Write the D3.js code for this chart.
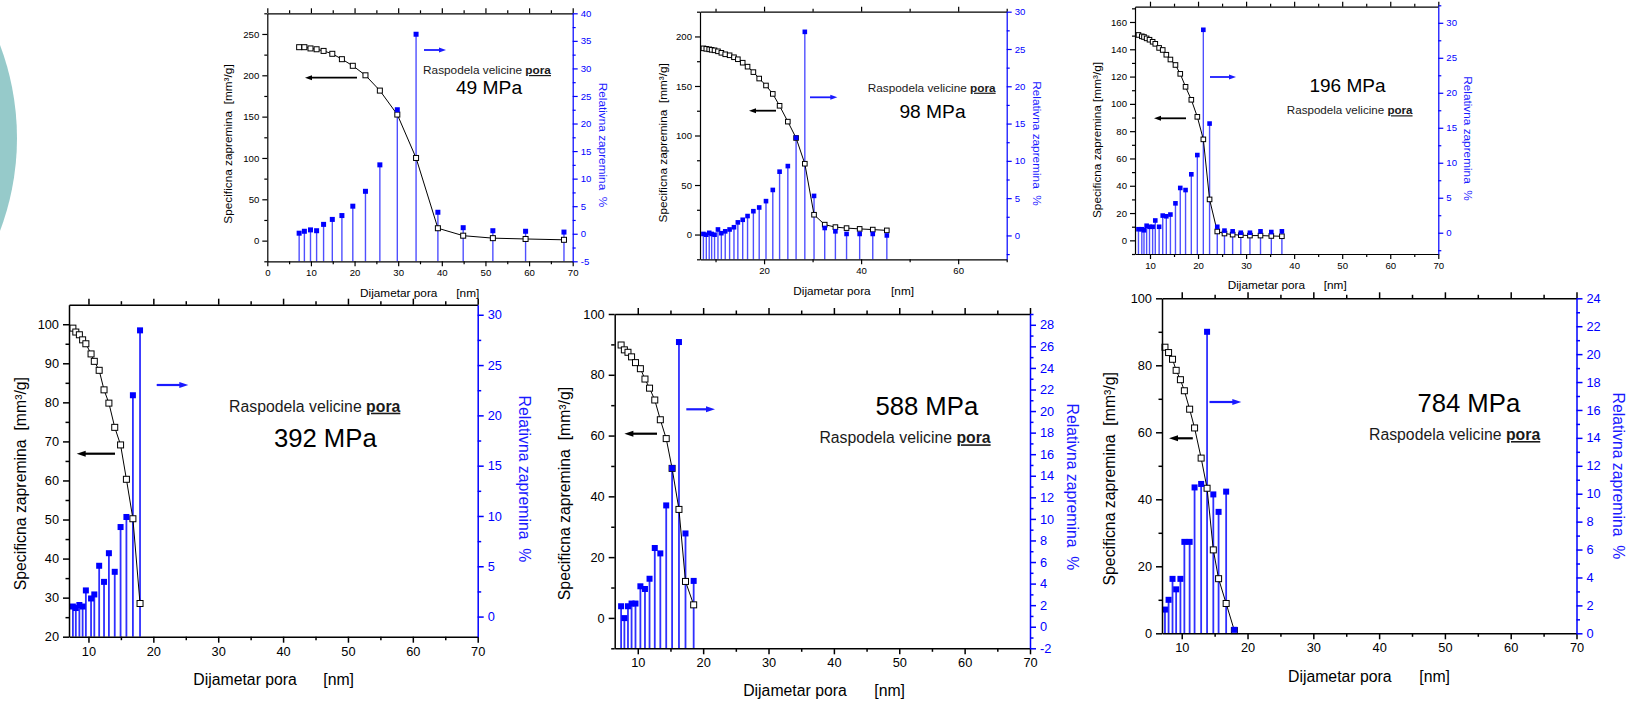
<!DOCTYPE html>
<html><head><meta charset="utf-8">
<script src="https://cdn.jsdelivr.net/npm/d3@7/dist/d3.min.js"></script>
<style>
html,body{margin:0;padding:0;background:#fff;overflow:hidden;}
svg{display:block;}
</style></head><body>
<svg id="chart" width="1633" height="701"></svg>
<script>
// ---------------- DATA ----------------
// 49 MPa
const d49    = [7.3, 8.5, 9.9, 11.3, 12.9, 14.9, 17.1, 19.6, 22.5, 25.8, 29.8, 34.1, 39.1, 44.9, 51.7, 59.2, 68.0];
const spec49 = [234, 234, 232.5, 231.5, 229.5, 226, 219.5, 211.5, 200, 181.5, 152.5, 100, 15, 6, 3, 2, 1];
const rel49  = [0.1, 0.45, 0.7, 0.55, 1.7, 2.6, 3.3, 5.0, 7.7, 12.5, 22.5, 36.2, 3.9, 1.1, 0.55, 0.45, 0.3];
// 98 MPa
const d98    = [7.5, 8.1, 8.7, 9.2, 9.8, 10.5, 11.2, 12.0, 12.9, 13.8, 14.6, 15.6, 16.6, 17.8, 19.0, 20.4, 21.8, 23.2, 24.9, 26.6, 28.4, 30.3, 32.5, 34.7, 37.0, 39.7, 42.4, 45.3];
const spec98 = [188, 187.5, 187, 186.5, 186, 185, 183.5, 182, 181, 179, 177, 173.5, 169.5, 164, 157.5, 150.5, 142, 130, 114, 97.5, 71.5, 20, 10, 7.5, 6.5, 5.7, 5, 4.2];
const rel98  = [0.2, 0.1, 0.35, 0.2, 0.1, 0.8, 0.3, 0.55, 0.8, 1.1, 1.75, 2.1, 2.6, 3.25, 3.75, 4.6, 6.1, 8.55, 9.3, 13.1, 27.3, 5.3, 1.0, 0.55, 0.2, 0.2, 0.2, 0.0];
// 196 MPa
const d196    = [7.6, 8.3, 8.75, 9.3, 9.9, 10.55, 11.1, 11.9, 12.65, 13.4, 14.25, 15.3, 16.3, 17.4, 18.6, 19.85, 21.1, 22.4, 24.0, 25.5, 27.2, 28.9, 30.8, 33.0, 35.25, 37.45];
const spec196 = [150.5, 149.5, 149, 148, 147, 145.5, 144, 141, 139.5, 136, 132.5, 128.5, 122, 112.5, 103, 90.5, 74, 30, 6.5, 5, 4.2, 3.8, 3.5, 3.5, 3.2, 3];
const rel196  = [0.5, 0.5, 0.35, 1.0, 0.85, 0.85, 1.75, 0.85, 2.45, 2.35, 2.6, 4.2, 6.4, 6.1, 8.35, 11.1, 29.0, 15.6, 0.85, 0.3, 0.2, 0.0, 0.0, 0.2, 0.1, 0.2];
// 392 MPa
const d392    = [7.6, 8.05, 8.6, 9.1, 9.6, 10.4, 10.9, 11.65, 12.4, 13.15, 14.05, 14.95, 15.85, 16.85, 17.95];
const spec392 = [99, 98, 97.3, 96, 95, 92.4, 90.5, 88.2, 83.2, 79.8, 73.6, 69.1, 60.3, 50.2, 28.5];
const rel392  = [1.0, 0.85, 1.15, 1.0, 2.6, 1.8, 2.2, 5.05, 3.45, 6.3, 4.45, 8.9, 9.9, 22.0, 28.45];
// 588 MPa
const d588    = [7.45, 7.95, 8.5, 9.05, 9.65, 10.4, 11.1, 11.8, 12.6, 13.45, 14.35, 15.25, 16.3, 17.3, 18.55];
const spec588 = [89.8, 88.2, 87.4, 85.9, 84, 82, 78.6, 75.6, 71.7, 65.2, 59, 49.2, 35.7, 12, 4.3];
const rel588  = [1.9, 0.8, 1.9, 2.15, 2.15, 3.75, 3.5, 4.45, 7.3, 6.8, 11.25, 14.7, 26.4, 8.65, 4.25];
// 784 MPa
const d784    = [7.45, 8.0, 8.6, 9.15, 9.8, 10.4, 11.2, 11.95, 12.95, 13.85, 14.8, 15.6, 16.75, 18.0];
const spec784 = [85.4, 83.8, 81.8, 78.5, 75.7, 72.4, 66.9, 61.3, 52.3, 43.3, 24.9, 16.3, 8.9, 0.8];
const rel784  = [1.7, 2.4, 3.9, 3.15, 3.9, 6.55, 6.55, 10.45, 10.7, 21.6, 9.95, 8.7, 10.15, 0.25];

// tick values
const xTicksA = [0, 10, 20, 30, 40, 50, 60, 70];
const xTicksB = [20, 40, 60];
const xTicksC = [10, 20, 30, 40, 50, 60, 70];
const lTicks49 = [0, 50, 100, 150, 200, 250];
const rTicks49 = [-5, 0, 5, 10, 15, 20, 25, 30, 35, 40];
const lTicks98 = [0, 50, 100, 150, 200];
const rTicks98 = [0, 5, 10, 15, 20, 25, 30];
const lTicks196 = [0, 20, 40, 60, 80, 100, 120, 140, 160];
const rTicks196 = [0, 5, 10, 15, 20, 25, 30];
const lTicks392 = [20, 30, 40, 50, 60, 70, 80, 90, 100];
const rTicks392 = [0, 5, 10, 15, 20, 25, 30];
const lTicks588 = [0, 20, 40, 60, 80, 100];
const rTicks588 = [-2, 0, 2, 4, 6, 8, 10, 12, 14, 16, 18, 20, 22, 24, 26, 28];
const lTicks784 = [0, 20, 40, 60, 80, 100];
const rTicks784 = [0, 2, 4, 6, 8, 10, 12, 14, 16, 18, 20, 22, 24];

const labels = ["49 MPa", "98 MPa", "196 MPa", "392 MPa", "588 MPa", "784 MPa"];
const xTitle1 = "Dijametar pora", xTitle2 = "[nm]";
const leftTitle = "Specificna zapremina  [mm³/g]";
const leftTitleB = "Specificna zapremina [mm³/g]";
const rightTitle = "Relativna zapremina  %";
const rasp = "Raspodela velicine ", raspB = "pora";

// ---------------- LAYOUT ----------------
const FONT = '"Liberation Sans", Arial, Helvetica, sans-serif';
const BLUE = "#0000ff";
const cfgTop = {fs:9.6, tfs:11.8, tl:5, tm:3, tp:3, sw:1.2, stemCol:"#4f4fff", stemW:1.4, ah:7, aw:5, alw:1.8};
const cfgBot = {fs:12.8, tfs:15.8, tl:6, tm:3.5, tp:4, sw:1.5, stemCol:"#2f2fff", stemW:1.8, ah:9, aw:6, alw:2.2};

const panels = [
 Object.assign({}, cfgTop, {d:d49, spec:spec49, rel:rel49, lab:labels[0], lt2:leftTitle,
  box:[267.3,13.3,572.7,261.3], xDom:[0,70], lDom:[-25,275], rDom:[-5,40],
  xMaj:xTicksA, xMin:d3.range(5,70,10), lMaj:lTicks49, lMin:d3.range(-25,276,50), rMaj:rTicks49, rMin:d3.range(-2.5,40,5),
  ms:5, mb:5, xt:[360,479.3,297.3], ltp:[228,144], rtp:[603,145],
  labP:[489,94.3,19.2], rasP:[487,74,11.8], blk:[357,305,77.7], blu:[424,446,50]}),
 Object.assign({}, cfgTop, {d:d98, spec:spec98, rel:rel98, lab:labels[1], lt2:leftTitle,
  box:[700,11.7,1006.7,259.3], xDom:[6.8,70], lDom:[-25,225], rDom:[-3.2,30],
  xMaj:xTicksB, xMin:[10,30,50,70], lMaj:lTicks98, lMin:d3.range(-25,226,50), rMaj:rTicks98, rMin:d3.range(-2.5,30,5),
  ms:4.6, mb:4.6, xt:[793.3,914,294.7], ltp:[662.7,142.8], rtp:[1037,143.5],
  labP:[932.5,118,19.2], rasP:[931.7,91.7,11.8], blk:[776,749,110.7], blu:[810,837.3,97.3]}),
 Object.assign({}, cfgTop, {d:d196, spec:spec196, rel:rel196, lab:labels[2], lt2:leftTitleB,
  box:[1135,6.7,1438.3,254], xDom:[6.88,70], lDom:[-10,171.2], rDom:[-3.04,32.3],
  xMaj:xTicksC, xMin:d3.range(15,70,10), lMaj:lTicks196, lMin:d3.range(-10,171,20), rMaj:rTicks196, rMin:d3.range(-2.5,33,5),
  ms:4.6, mb:4.6, xt:[1227.7,1346.7,289], ltp:[1096.7,140], rtp:[1468,138.5],
  labP:[1347.5,91.7,19], rasP:[1349.7,114.3,11.6], blk:[1186,1154,118.3], blu:[1210,1236,77]}),
 Object.assign({}, cfgBot, {d:d392, spec:spec392, rel:rel392, lab:labels[3], lt2:leftTitle,
  box:[69,304.7,477.7,636.7], xDom:[7,70], lDom:[20,105], rDom:[-2,31],
  xMaj:xTicksC, xMin:d3.range(15,70,10), lMaj:lTicks392, lMin:d3.range(25,105,10), rMaj:rTicks392, rMin:d3.range(2.5,31,5),
  ms:6, mb:6, xt:[193.3,354,684.8], ltp:[20,483.7], rtp:[524,479],
  labP:[325.3,446.7,25.7], rasP:[314.7,411.7,15.8], blk:[115,76.7,453.7], blu:[156.7,188.3,385]}),
 Object.assign({}, cfgBot, {d:d588, spec:spec588, rel:rel588, lab:labels[4], lt2:leftTitle,
  box:[614.7,314,1030,648.3], xDom:[6.47,70], lDom:[-10,100], rDom:[-2,29],
  xMaj:xTicksC, xMin:d3.range(15,70,10), lMaj:lTicks588, lMin:d3.range(-10,101,20), rMaj:rTicks588, rMin:d3.range(-1,30,2),
  ms:6, mb:6, xt:[743.2,905,695.5], ltp:[564,493.5], rtp:[1072,487],
  labP:[926.8,415,25.7], rasP:[905,443.3,15.8], blk:[657,624.4,433.7], blu:[686.3,715,409.3]}),
 Object.assign({}, cfgBot, {d:d784, spec:spec784, rel:rel784, lab:labels[5], lt2:leftTitle,
  box:[1162,298.3,1576.5,633.3], xDom:[7,70], lDom:[0,100], rDom:[0,24],
  xMaj:xTicksC, xMin:d3.range(15,70,10), lMaj:lTicks784, lMin:d3.range(10,100,20), rMaj:rTicks784, rMin:d3.range(1,24,2),
  ms:6, mb:6, xt:[1288,1450,682.2], ltp:[1109,478.8], rtp:[1618,476],
  labP:[1468.8,412.3,25.7], rasP:[1454.6,440,15.8], blk:[1192.8,1169,438.3], blu:[1209.5,1241.3,402]})
];

const svg = d3.select("#chart");
svg.append("rect").attr("width",1633).attr("height",701).attr("fill","#fff");
svg.append("circle").attr("cx",-246).attr("cy",138).attr("r",263).attr("fill","#96caca");

const fmt = v => String(v);

function styleAxis(a, p, color, minor){
  a.attr("font-size", p.fs).attr("font-family", FONT);
  if (minor) a.select(".domain").remove();
  else a.select(".domain").attr("stroke", color).attr("stroke-width", p.sw);
  a.selectAll(".tick line").attr("stroke", color).attr("stroke-width", p.sw);
  a.selectAll(".tick text").attr("fill", color);
}

function arrow(g, xt, xh, y, col, p){
  const dir = xh > xt ? 1 : -1;
  g.append("line").attr("x1",xt).attr("x2",xh - dir*p.ah*0.7).attr("y1",y).attr("y2",y)
    .attr("stroke",col).attr("stroke-width",p.alw);
  g.append("path").attr("d",`M${xh},${y}L${xh-dir*p.ah},${y-p.aw/2}L${xh-dir*p.ah},${y+p.aw/2}Z`).attr("fill",col);
}

function drawPanel(p){
  const [x0,y0,x1,y1] = p.box;
  const xs = d3.scaleLinear().domain(p.xDom).range([x0,x1]);
  const yl = d3.scaleLinear().domain(p.lDom).range([y1,y0]);
  const yr = d3.scaleLinear().domain(p.rDom).range([y1,y0]);
  const g = svg.append("g");
  const pts = p.d.map((d,i)=>({d:d, s:p.spec[i], r:p.rel[i]}));

  g.append("g").selectAll("line").data(pts).join("line")
    .attr("x1",v=>xs(v.d)).attr("x2",v=>xs(v.d))
    .attr("y1",y1).attr("y2",v=>yr(v.r))
    .attr("stroke",p.stemCol).attr("stroke-width",p.stemW);

  g.append("path").datum(pts)
    .attr("d", d3.line().x(v=>xs(v.d)).y(v=>yl(v.s)))
    .attr("fill","none").attr("stroke","#000").attr("stroke-width",1);
  g.append("g").selectAll("rect").data(pts).join("rect")
    .attr("x",v=>xs(v.d)-p.ms/2).attr("y",v=>yl(v.s)-p.ms/2)
    .attr("width",p.ms).attr("height",p.ms)
    .attr("fill","#fff").attr("stroke","#000").attr("stroke-width",1);
  g.append("g").selectAll("rect").data(pts).join("rect")
    .attr("x",v=>xs(v.d)-p.mb/2).attr("y",v=>yr(v.r)-p.mb/2)
    .attr("width",p.mb).attr("height",p.mb).attr("fill",BLUE);

  styleAxis(g.append("g").attr("transform",`translate(0,${y1})`)
    .call(d3.axisBottom(xs).tickValues(p.xMaj).tickSize(p.tl).tickSizeOuter(0).tickPadding(p.tp).tickFormat(fmt)), p, "#000", false);
  styleAxis(g.append("g").attr("transform",`translate(0,${y1})`)
    .call(d3.axisBottom(xs).tickValues(p.xMin).tickSize(p.tm).tickFormat("")), p, "#000", true);
  styleAxis(g.append("g").attr("transform",`translate(0,${y0})`)
    .call(d3.axisTop(xs).tickValues(p.xMaj).tickSize(p.tl).tickSizeOuter(0).tickFormat("")), p, "#000", false);
  styleAxis(g.append("g").attr("transform",`translate(0,${y0})`)
    .call(d3.axisTop(xs).tickValues(p.xMin).tickSize(p.tm).tickFormat("")), p, "#000", true);
  styleAxis(g.append("g").attr("transform",`translate(${x0},0)`)
    .call(d3.axisLeft(yl).tickValues(p.lMaj).tickSize(p.tl).tickSizeOuter(0).tickPadding(p.tp).tickFormat(fmt)), p, "#000", false);
  styleAxis(g.append("g").attr("transform",`translate(${x0},0)`)
    .call(d3.axisLeft(yl).tickValues(p.lMin).tickSize(p.tm).tickFormat("")), p, "#000", true);
  styleAxis(g.append("g").attr("transform",`translate(${x1},0)`)
    .call(d3.axisRight(yr).tickValues(p.rMaj).tickSize(p.tl).tickSizeOuter(0).tickPadding(p.tp).tickFormat(fmt)), p, BLUE, false);
  styleAxis(g.append("g").attr("transform",`translate(${x1},0)`)
    .call(d3.axisRight(yr).tickValues(p.rMin).tickSize(p.tm).tickFormat("")), p, BLUE, true);

  g.append("text").attr("x",p.xt[0]).attr("y",p.xt[2]).attr("font-family",FONT).attr("font-size",p.tfs)
    .attr("fill","#000").text(xTitle1);
  g.append("text").attr("x",p.xt[1]).attr("y",p.xt[2]).attr("text-anchor","end").attr("font-family",FONT).attr("font-size",p.tfs)
    .attr("fill","#000").text(xTitle2);
  g.append("text").attr("transform",`translate(${p.ltp[0]},${p.ltp[1]}) rotate(-90)`)
    .attr("text-anchor","middle").attr("dominant-baseline","central")
    .attr("font-family",FONT).attr("font-size",p.tfs).attr("fill","#000")
    .attr("xml:space","preserve").style("white-space","pre").text(p.lt2);
  g.append("text").attr("transform",`translate(${p.rtp[0]},${p.rtp[1]}) rotate(90)`)
    .attr("text-anchor","middle").attr("dominant-baseline","central")
    .attr("font-family",FONT).attr("font-size",p.tfs).attr("fill","#1a1aff")
    .attr("xml:space","preserve").style("white-space","pre").text(rightTitle);

  g.append("text").attr("x",p.labP[0]).attr("y",p.labP[1]).attr("text-anchor","middle")
    .attr("font-family",FONT).attr("font-size",p.labP[2]).attr("fill","#000").text(p.lab);
  const t = g.append("text").attr("x",p.rasP[0]).attr("y",p.rasP[1]).attr("text-anchor","middle")
    .attr("font-family",FONT).attr("font-size",p.rasP[2]).attr("fill","#1a1a1a")
    .attr("xml:space","preserve").style("white-space","pre");
  t.append("tspan").text(rasp);
  t.append("tspan").attr("font-weight","bold").style("text-decoration","underline").text(raspB);
  arrow(g, p.blk[0], p.blk[1], p.blk[2], "#000", p);
  arrow(g, p.blu[0], p.blu[1], p.blu[2], "#1a1aff", p);
}

panels.forEach(drawPanel);
</script>
</body></html>
